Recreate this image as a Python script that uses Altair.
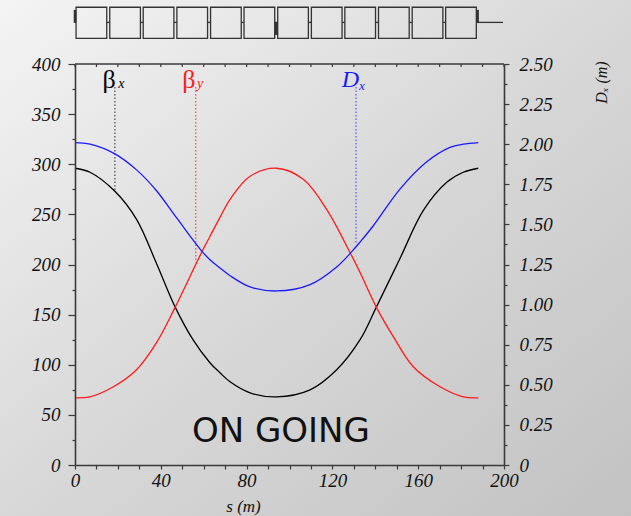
import altair as alt
import pandas as pd

# ---- data ----
s_bx = [0, 7, 18.6, 28.7, 38, 46.6, 55, 62.9, 67.6, 72.3, 81.6, 94, 109.6, 122, 132.9, 140.6, 151.5, 162.4, 173.3, 181, 188]
beta_x = [296, 292, 273, 245, 201, 158, 125, 102, 92, 83, 72, 68, 75, 95, 125, 158, 206, 254, 282, 292, 296]

s_by = [0, 7, 17.9, 28.7, 38, 46.6, 59, 62.9, 67.6, 72.3, 81.6, 94, 106.4, 117.3, 128.2, 132.9, 140.6, 148.4, 157.7, 170.2, 181, 188]
beta_y = [67, 68, 78, 95, 122, 157, 212, 228, 247, 265, 288, 296, 285, 255, 212, 192, 157, 128, 98, 78, 68, 67]

s_dx = [0, 7, 18.6, 28.7, 38, 47.4, 59, 62.9, 67.6, 72.3, 81.6, 94, 109.6, 122, 129, 132.9, 139, 151.5, 164, 174.8, 181, 188]
d_x = [2.01, 2.0, 1.94, 1.84, 1.71, 1.54, 1.335, 1.28, 1.228, 1.18, 1.11, 1.085, 1.125, 1.235, 1.33, 1.39, 1.49, 1.72, 1.89, 1.98, 2.0, 2.01]

# lattice schematic (cells of the ring)
cell_start = [0.5, 16.2, 31.8, 47.5, 63.2, 78.8, 94.5, 110.2, 125.8, 141.5, 157.2, 172.8]
cell_end = [14.8, 30.5, 46.1, 61.8, 77.5, 93.1, 108.8, 124.5, 140.1, 155.8, 171.5, 187.1]
gap_start = [14.8, 30.5, 46.1, 61.8, 77.5, 93.1, 108.8, 124.5, 140.1, 155.8, 171.5, 187.1]
gap_end = [16.2, 31.8, 47.5, 63.2, 78.8, 94.5, 110.2, 125.8, 141.5, 157.2, 172.8, 199.5]
mark_s0 = [-0.6, 93.2, 187.1]
mark_s1 = [0.6, 94.6, 188.3]
mark_y0 = [441, 429, 441]
mark_y1 = [454, 441, 454]

x_ticks = list(range(0, 201, 10))
y_ticks = [0, 25, 50, 75, 100, 125, 150, 175, 200, 225, 250, 275, 300, 325, 350, 375, 400]
d_ticks = [0, 0.125, 0.25, 0.375, 0.5, 0.625, 0.75, 0.875, 1.0, 1.125, 1.25, 1.375,
           1.5, 1.625, 1.75, 1.875, 2.0, 2.125, 2.25, 2.375, 2.5]

W, H = 429, 401
SERIF = "Liberation Serif"
AXC = "#3a3a3a"

xaxis = alt.Axis(values=x_ticks, labelExpr="datum.value % 40 === 0 ? datum.label : ''",
                 title="s (m)", titleFont=SERIF, titleFontStyle="italic", titleFontWeight="normal",
                 titleFontSize=17, titleColor="#111", titleX=168, titleY=41, titleAlign="center",
                 titleBaseline="middle",
                 labelFont=SERIF, labelFontStyle="italic", labelFontSize=19, labelColor="#111",
                 labelPadding=2, labelFlush=False, labelOverlap=False,
                 tickSize=4, tickColor=AXC, tickWidth=1.2, domainColor=AXC, domainWidth=1.6,
                 grid=False, zindex=1)
yaxis = alt.Axis(values=y_ticks, labelExpr="datum.value % 50 === 0 ? datum.label : ''",
                 title=None, labelFont=SERIF, labelFontStyle="italic", labelFontSize=19,
                 labelColor="#111", labelPadding=8, labelOverlap=False, labelFlush=False,
                 tickSize={"condition": {"test": "datum.value % 50 === 0", "value": 7}, "value": 3},
                 tickColor=AXC, tickWidth=1.2, domainColor=AXC, domainWidth=1.6, grid=False, zindex=1)
daxis = alt.Axis(values=d_ticks, orient="right",
                 labelExpr="datum.value === 0 ? '0' : (datum.value * 4) % 1 === 0 ? format(datum.value, '.2f') : ''",
                 title="Dₓ (m)", titleFont=SERIF, titleFontStyle="italic", titleFontWeight="normal",
                 titleFontSize=16, titleColor="#111", titleAngle=270, titleX=97, titleY=18,
                 titleAlign="center", titleBaseline="middle",
                 labelFont=SERIF, labelFontStyle="italic", labelFontSize=19, labelColor="#111",
                 labelPadding=10, labelOverlap=False, labelFlush=False,
                 tickSize={"condition": {"test": "(datum.value * 4) % 1 === 0", "value": 5}, "value": 3},
                 tickColor=AXC, tickWidth=1.2, domainColor=AXC, domainWidth=1.6, grid=False, zindex=1)

xs = alt.Scale(domain=[0, 200], nice=False, zero=False)
ys = alt.Scale(domain=[0, 400], nice=False)
ds = alt.Scale(domain=[0, 2.5], nice=False)


def X(f):
    return alt.X(f + ":Q", scale=xs, axis=xaxis)


def YL(f):
    return alt.Y(f + ":Q", scale=ys, axis=yaxis)


def YR(f):
    return alt.Y(f + ":Q", scale=ds, axis=daxis)


bg = alt.Chart(pd.DataFrame({"a": [0]})).mark_rect(
    fill=alt.Gradient(gradient="linear", x1=0, y1=0, x2=1, y2=1,
                      stops=[alt.GradientStop(color="#f4f4f4", offset=0),
                             alt.GradientStop(color="#d8d8d8", offset=0.5),
                             alt.GradientStop(color="#c2c2c2", offset=1)])
).encode(x=alt.value(-75), x2=alt.value(556), y=alt.value(-64), y2=alt.value(452))

df_bx = pd.DataFrame({"s": s_bx, "v": beta_x})
df_by = pd.DataFrame({"s": s_by, "v": beta_y})
df_dx = pd.DataFrame({"s": s_dx, "v": d_x})

INTERP = "catmull-rom"
line_bx = alt.Chart(df_bx).mark_line(color="#000000", strokeWidth=1.3, interpolate=INTERP).encode(x=X("s"), y=YL("v"))
line_by = alt.Chart(df_by).mark_line(color="#ff1a1a", strokeWidth=1.3, interpolate=INTERP).encode(x=X("s"), y=YL("v"))
line_dx = alt.Chart(df_dx).mark_line(color="#1a1aff", strokeWidth=1.3, interpolate=INTERP).encode(x=X("s"), y=YR("v"))

# dotted pointer lines
ptr_l = pd.DataFrame({"s": [18.6, 56.3], "v0": [377, 377], "v1": [273, 202], "c": ["#444444", "#ff4040"]})
ptr_r = pd.DataFrame({"s": [131], "v0": [2.356], "v1": [1.375], "c": ["#5555ff"]})
ptr_left = alt.Chart(ptr_l).mark_rule(strokeDash=[1.5, 2], strokeWidth=1.2).encode(
    x=X("s"), y=YL("v0"), y2="v1:Q", color=alt.Color("c:N", scale=None))
ptr_right = alt.Chart(ptr_r).mark_rule(strokeDash=[1.5, 2], strokeWidth=1.2).encode(
    x=X("s"), y=YR("v0"), y2="v1:Q", color=alt.Color("c:N", scale=None))

# labels
big = pd.DataFrame({"s": [15.9, 53.1], "v": [384, 384], "t": ["β", "β"], "c": ["#000000", "#ff1a1a"]})
subs = pd.DataFrame({"s": [20.2, 56.9], "v": [380, 380], "t": ["x", "y"], "c": ["#000000", "#ff1a1a"]})
lab_big = alt.Chart(big).mark_text(font=SERIF, fontSize=26, align="center", baseline="middle").encode(
    x=X("s"), y=YL("v"), text="t:N", color=alt.Color("c:N", scale=None))
lab_sub = alt.Chart(subs).mark_text(font=SERIF, fontStyle="italic", fontSize=14, align="left", baseline="middle").encode(
    x=X("s"), y=YL("v"), text="t:N", color=alt.Color("c:N", scale=None))
dbig = pd.DataFrame({"s": [128.4], "v": [2.40], "t": ["D"]})
dsub = pd.DataFrame({"s": [132.4], "v": [2.365], "t": ["x"]})
lab_d = alt.Chart(dbig).mark_text(font=SERIF, fontStyle="italic", fontSize=24, align="center", baseline="middle",
                                  color="#1a1aff").encode(x=X("s"), y=YR("v"), text="t:N")
lab_dsub = alt.Chart(dsub).mark_text(font=SERIF, fontStyle="italic", fontSize=13, align="left", baseline="middle",
                                     color="#1a1aff").encode(x=X("s"), y=YR("v"), text="t:N")

ongoing = alt.Chart(pd.DataFrame({"s": [96], "v": [23], "t": ["ON GOING"]})).mark_text(
    font="DejaVu Sans", fontSize=34, align="center", baseline="alphabetic", color="#111").encode(
    x=X("s"), y=YL("v"), text="t:N")

# frame top line + inward ticks
top_line = alt.Chart(pd.DataFrame({"s0": [0], "s1": [200], "v": [400]})).mark_rule(
    color=AXC, strokeWidth=1.6).encode(x=X("s0"), x2="s1:Q", y=YL("v"))
top_ticks = alt.Chart(pd.DataFrame({"s": x_ticks, "v0": [400] * len(x_ticks), "v1": [397] * len(x_ticks)})).mark_rule(
    color=AXC, strokeWidth=1.2).encode(x=X("s"), y=YL("v0"), y2="v1:Q")

# lattice schematic
cells = pd.DataFrame({"s0": cell_start, "s1": cell_end, "v0": [425.6] * 12, "v1": [456.6] * 12})
gaps = pd.DataFrame({"s0": gap_start, "s1": gap_end, "v": [441.5] * 12})
marks = pd.DataFrame({"s0": mark_s0, "s1": mark_s1, "v0": mark_y0, "v1": mark_y1})
lat_line = alt.Chart(gaps).mark_rule(color="#333333", strokeWidth=1.3).encode(x=X("s0"), x2="s1:Q", y=YL("v"))
lat_cells = alt.Chart(cells).mark_rect(filled=False, stroke="#333333", strokeWidth=1.3).encode(
    x=X("s0"), x2="s1:Q", y=YL("v0"), y2="v1:Q")
lat_marks = alt.Chart(marks).mark_rect(color="#333333").encode(x=X("s0"), x2="s1:Q", y=YL("v0"), y2="v1:Q")

left = alt.layer(bg, top_line, top_ticks, lat_line, lat_cells, lat_marks, ptr_left,
                 line_bx, line_by, lab_big, lab_sub, ongoing)
right = alt.layer(ptr_right, line_dx, lab_d, lab_dsub)

chart = alt.layer(left, right).resolve_scale(y="independent").properties(
    width=W, height=H, autosize="none",
    padding={"left": 75, "top": 64, "right": 127, "bottom": 51},
).configure_view(stroke=None)

chart.save("out.html", embed_options={"renderer": "svg", "actions": False})
